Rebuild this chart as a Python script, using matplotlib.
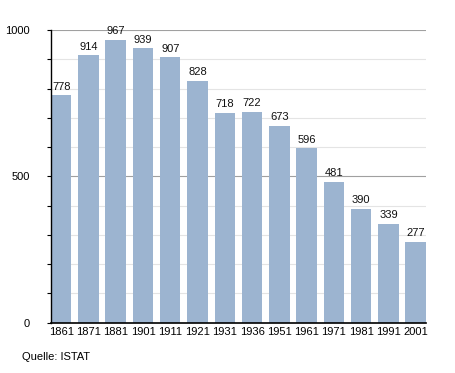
import matplotlib.pyplot as plt
import numpy as np

plt.rcParams['font.family'] = ['Liberation Sans', 'DejaVu Sans']

years = ['1861', '1871', '1881', '1901', '1911', '1921', '1931',
         '1936', '1951', '1961', '1971', '1981', '1991', '2001']
population = [778, 914, 967, 939, 907, 828, 718, 722, 673, 596, 481, 390, 339, 277]

fig = plt.figure(figsize=(4.55, 3.73), dpi=100)
ax = fig.add_axes([0.112, 0.135, 0.824, 0.784])

x = np.arange(len(years))
w = 0.75

# grid lines
for v in range(100, 1001, 100):
    if v % 500 == 0:
        ax.axhline(v, color='#a0a0a0', lw=0.8, zorder=0)
    else:
        ax.axhline(v, color='#e4e4e4', lw=0.8, zorder=0)

ax.bar(x, population, width=w, color='#9cb4d0', zorder=2)
for xi, v in zip(x, population):
    ax.text(xi, v + 12, str(v), ha='center', va='bottom', fontsize=8, color='#111111')

ax.set_xlim(-w / 2, len(years) - 1 + w / 2)
ax.set_ylim(0, 1000)
ax.set_xticks(x)
ax.set_xticklabels(years, fontsize=8)
ax.set_yticks([0, 500, 1000])
ax.set_yticklabels(['0', '500', '1000'], fontsize=8)
ax.set_yticks(range(100, 1000, 100), minor=True)
ax.tick_params(axis='x', length=0, pad=3)
ax.tick_params(axis='y', which='both', length=3, width=0.8, direction='out', pad=12)

ax.spines['top'].set_visible(False)
ax.spines['right'].set_visible(False)
ax.spines['left'].set_linewidth(1.0)
ax.spines['bottom'].set_linewidth(1.2)

fig.text(22 / 455, 1 - 357 / 373, 'Quelle: ISTAT', fontsize=8, va='center', ha='left')

fig.savefig('out.png', dpi=100)
